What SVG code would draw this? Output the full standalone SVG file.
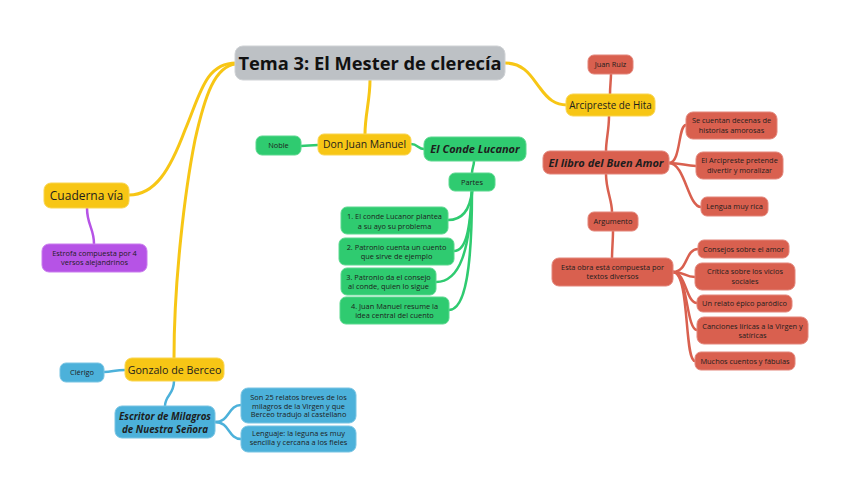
<svg xmlns="http://www.w3.org/2000/svg" width="848" height="494" viewBox="0 0 848 494">
<style>
text{font-family:"Open Sans","Noto Sans","DejaVu Sans",sans-serif;text-anchor:middle;fill:#1d1d1d}
.s{font-size:7.4px}
.m{font-size:10.4px}
.bi{font-weight:bold;font-style:italic;font-size:11px}
.y{fill:#f7c615;stroke:#f9d550;stroke-width:1}
.g{fill:#2fcb70;stroke:#5bd88e;stroke-width:1}
.r{fill:#d9604f;stroke:#e3857a;stroke-width:1}
.b{fill:#4cb1da;stroke:#78c4e3;stroke-width:1}
.p{fill:#b653e6;stroke:#c97cee;stroke-width:1}
.cy{fill:none;stroke:#f7c615;stroke-width:3;stroke-linecap:round}
.cg{fill:none;stroke:#2fcb70;stroke-width:2.5;stroke-linecap:round}
.cr{fill:none;stroke:#d9604f;stroke-width:2.5;stroke-linecap:round}
.cb{fill:none;stroke:#4cb1da;stroke-width:2.5;stroke-linecap:round}
.cp{fill:none;stroke:#b653e6;stroke-width:2.5;stroke-linecap:round}
</style>
<rect width="848" height="494" fill="#ffffff"/>
<g id="connectors">
<path class="cy" d="M236,63 C205,63 200,95 185,130 C170,170 155,195 129,195"/>
<path class="cy" d="M236,64 C215,66 205,95 195,140 C185,190 174,280 174,358"/>
<path class="cy" d="M370,80 C370,100 365,115 365,134"/>
<path class="cy" d="M505,63 C525,63 532,78 540,88 C548,99 555,105 567,105"/>
<path class="cg" d="M318,145 C310,145 308,146 301,146"/>
<path class="cg" d="M411,144 C418,144 418,149 424,149"/>
<path class="cg" d="M474,161 C474,166 472,168 472,173"/>
<path class="cg" d="M472,191 C470,210 462,220 448,220"/>
<path class="cg" d="M472,191 C470,230 466,251 454,251"/>
<path class="cg" d="M472,191 C470,250 460,282 436,282"/>
<path class="cg" d="M472,191 C472,270 465,310 449,310"/>
<path class="cp" d="M87,208 C87,225 94,228 94,244"/>
<path class="cb" d="M125,370 C115,370 112,372 104,372"/>
<path class="cb" d="M174,381 C174,395 165,395 165,406"/>
<path class="cb" d="M215,422 C230,422 228,405 241,405"/>
<path class="cb" d="M215,422 C230,422 228,439 241,439"/>
<path class="cr" d="M610,94 C610,86 611,80 611,74"/>
<path class="cr" d="M609,116 C609,130 606,140 606,151"/>
<path class="cr" d="M606,174 C606,190 612,200 612,212"/>
<path class="cr" d="M613,231 C613,240 612,250 612,258"/>
<path class="cr" d="M669,163 C681,163 678,125 686,125"/>
<path class="cr" d="M669,163 C682,163 685,166 696,166"/>
<path class="cr" d="M669,163 C685,163 688,207 701,207"/>
<path class="cr" d="M673,272 C688,272 685,249 698,249"/>
<path class="cr" d="M673,272 C686,272 684,277 695,277"/>
<path class="cr" d="M673,272 C686,272 686,303 697,303"/>
<path class="cr" d="M673,272 C688,272 686,330 697,330"/>
<path class="cr" d="M673,272 C690,272 684,361 695,361"/>
</g>
<g id="root">
<rect x="235" y="46" width="270" height="34" rx="8" fill="#bdc1c5" stroke="#cfd2d5"/>
<text x="370" y="69.5" style="font-size:18.3px;font-weight:bold;fill:#111">Tema 3: El Mester de clerecía</text>
</g>
<g id="don-juan-manuel">
<rect class="y" x="318" y="134" width="93" height="21" rx="6"/>
<text class="m" x="364.5" y="148.3">Don Juan Manuel</text>
</g>
<g id="noble">
<rect class="g" x="256" y="136" width="45" height="19" rx="6"/>
<text class="s" x="278.5" y="148.3">Noble</text>
</g>
<g id="conde-lucanor">
<rect class="g" x="424" y="137" width="102" height="24" rx="7"/>
<text class="bi" x="475" y="153">El Conde Lucanor</text>
</g>
<g id="partes">
<rect class="g" x="449" y="173" width="46" height="18" rx="6"/>
<text class="s" x="472" y="184.7">Partes</text>
</g>
<g id="parte-1">
<rect class="g" x="341" y="207" width="107" height="27" rx="6"/>
<text class="s" x="394.5" y="219.4">1. El conde Lucanor plantea</text>
<text class="s" x="394.5" y="228.7">a su ayo su problema</text>
</g>
<g id="parte-2">
<rect class="g" x="339" y="238" width="115" height="27" rx="6"/>
<text class="s" x="396.5" y="250">2. Patronio cuenta un cuento</text>
<text class="s" x="396.5" y="259.3">que sirve de ejemplo</text>
</g>
<g id="parte-3">
<rect class="g" x="341" y="268" width="95" height="27" rx="6"/>
<text class="s" x="388.5" y="280">3. Patronio da el consejo</text>
<text class="s" x="388.5" y="289.3">al conde, quien lo sigue</text>
</g>
<g id="parte-4">
<rect class="g" x="340" y="297" width="109" height="27" rx="6"/>
<text class="s" x="394.5" y="309">4. Juan Manuel resume la</text>
<text class="s" x="394.5" y="318.3">idea central del cuento</text>
</g>
<g id="cuaderna-via">
<rect class="y" x="44" y="183" width="85" height="25" rx="7"/>
<text x="86.5" y="199.5" style="font-size:12px">Cuaderna vía</text>
</g>
<g id="estrofa">
<rect class="p" x="42" y="244" width="105" height="28" rx="7"/>
<text class="s" x="94.5" y="256">Estrofa compuesta por 4</text>
<text class="s" x="94.5" y="265.3">versos alejandrinos</text>
</g>
<g id="gonzalo-de-berceo">
<rect class="y" x="125" y="358" width="99" height="23" rx="7"/>
<text x="174.5" y="373.5" style="font-size:10.7px">Gonzalo de Berceo</text>
</g>
<g id="clerigo">
<rect class="b" x="60" y="363" width="44" height="19" rx="6"/>
<text class="s" x="82" y="375.3">Clérigo</text>
</g>
<g id="escritor-milagros">
<rect class="b" x="115" y="406" width="100" height="32" rx="7"/>
<text class="bi" x="165" y="420.2" style="font-size:9.8px">Escritor de Milagros</text>
<text class="bi" x="165" y="432.8" style="font-size:9.8px">de Nuestra Señora</text>
</g>
<g id="son-25">
<rect class="b" x="241" y="388" width="115" height="35" rx="7"/>
<text class="s" x="298.5" y="400">Son 25 relatos breves de los</text>
<text class="s" x="298.5" y="408.7">milagros de la Virgen y que</text>
<text class="s" x="298.5" y="417.4">Berceo tradujo al castellano</text>
</g>
<g id="lenguaje">
<rect class="b" x="241" y="426" width="115" height="26" rx="7"/>
<text class="s" x="298.5" y="436">Lenguaje: la leguna es muy</text>
<text class="s" x="298.5" y="445.4">sencilla y cercana a los fieles</text>
</g>
<g id="arcipreste-de-hita">
<rect class="y" x="566" y="94" width="89" height="22" rx="7"/>
<text class="m" x="610.5" y="108.7" style="font-size:9.9px">Arcipreste de Hita</text>
</g>
<g id="juan-ruiz">
<rect class="r" x="588" y="55" width="45" height="19" rx="6"/>
<text class="s" x="610.5" y="67.3">Juan Ruiz</text>
</g>
<g id="libro-buen-amor">
<rect class="r" x="543" y="151" width="126" height="23" rx="7"/>
<text class="bi" x="606" y="166.5">El libro del Buen Amor</text>
</g>
<g id="se-cuentan">
<rect class="r" x="686" y="112" width="91" height="27" rx="7"/>
<text class="s" x="731.5" y="123.4">Se cuentan decenas de</text>
<text class="s" x="731.5" y="132.7">historias amorosas</text>
</g>
<g id="arcipreste-pretende">
<rect class="r" x="696" y="152" width="87" height="27" rx="7"/>
<text class="s" x="739.5" y="163.4">El Arcipreste pretende</text>
<text class="s" x="739.5" y="172.7">divertir y moralizar</text>
</g>
<g id="lengua-rica">
<rect class="r" x="701" y="197" width="67" height="19" rx="6"/>
<text class="s" x="734.5" y="209.3">Lengua muy rica</text>
</g>
<g id="argumento">
<rect class="r" x="588" y="212" width="50" height="19" rx="6"/>
<text class="s" x="613" y="224.3">Argumento</text>
</g>
<g id="esta-obra">
<rect class="r" x="552" y="258" width="121" height="28" rx="7"/>
<text class="s" x="612.5" y="270.4">Esta obra está compuesta por</text>
<text class="s" x="612.5" y="279.4">textos diversos</text>
</g>
<g id="consejos">
<rect class="r" x="698" y="240" width="91" height="18" rx="6"/>
<text class="s" x="743.5" y="251.7">Consejos sobre el amor</text>
</g>
<g id="critica">
<rect class="r" x="695" y="263" width="100" height="27" rx="7"/>
<text class="s" x="745" y="274.4">Crítica sobre los vicios</text>
<text class="s" x="745" y="283.7">sociales</text>
</g>
<g id="relato-epico">
<rect class="r" x="697" y="295" width="95" height="17" rx="6"/>
<text class="s" x="744.5" y="306.2">Un relato épico paródico</text>
</g>
<g id="canciones">
<rect class="r" x="697" y="317" width="111" height="27" rx="7"/>
<text class="s" x="752.5" y="329.4">Canciones líricas a la Virgen y</text>
<text class="s" x="752.5" y="338.4">satíricas</text>
</g>
<g id="muchos-cuentos">
<rect class="r" x="695" y="352" width="100" height="18" rx="6"/>
<text class="s" x="745" y="363.7">Muchos cuentos y fábulas</text>
</g>
</svg>
